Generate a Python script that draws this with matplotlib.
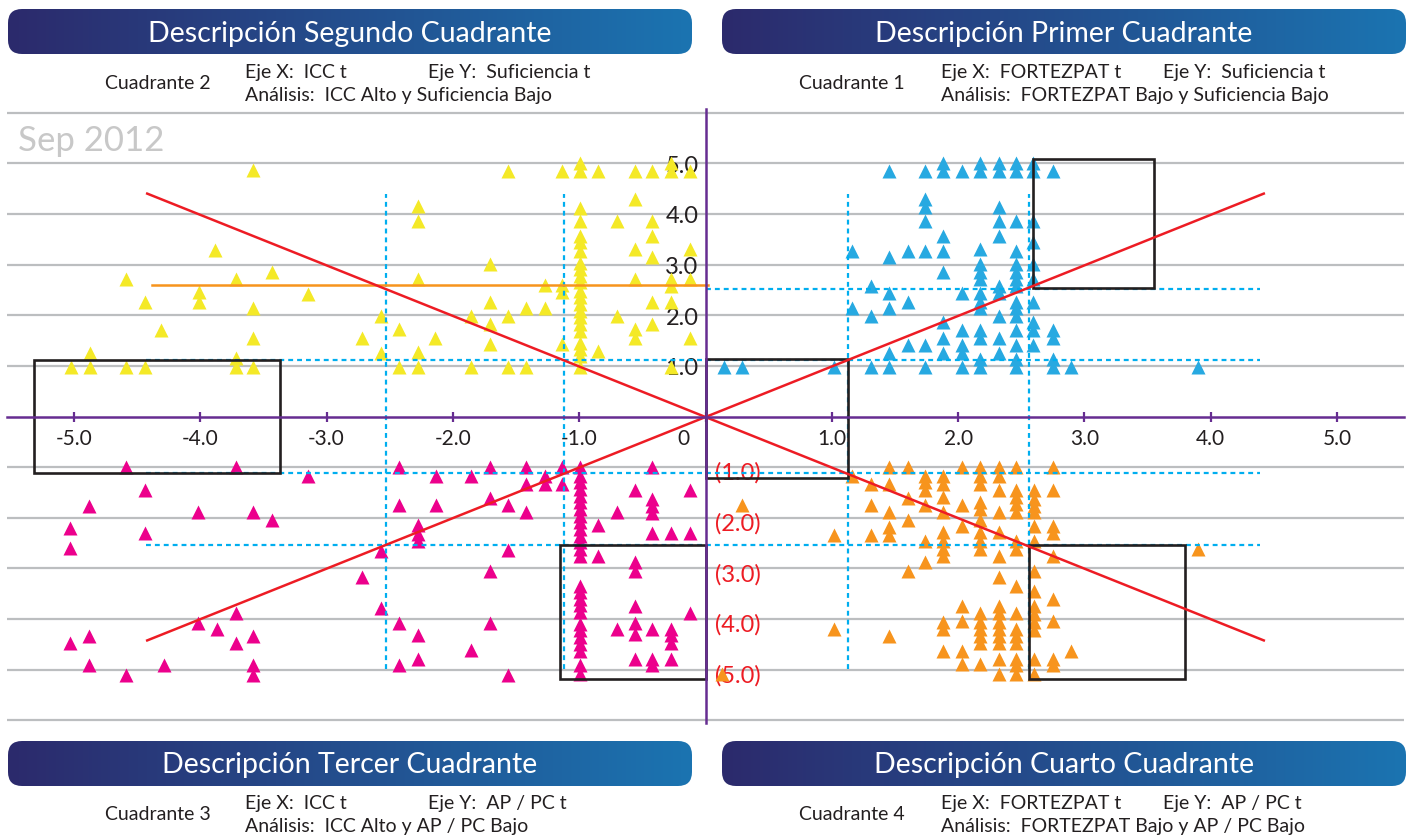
import numpy as np
import matplotlib.pyplot as plt
from matplotlib.patches import FancyBboxPatch, Rectangle
from matplotlib.colors import LinearSegmentedColormap
from matplotlib.ticker import FuncFormatter
from matplotlib.transforms import ScaledTranslation

plt.rcParams['font.family'] = ['Lato', 'DejaVu Sans']

# --- puntos por cuadrante: columnas x y sus valores y ---
q2_cols = [-5.02, -4.87, -4.59, -4.44, -4.31, -4.01, -3.88, -3.72, -3.58, -3.43, -3.15,
           -2.72, -2.57, -2.43, -2.28, -2.14, -1.86, -1.71, -1.56, -1.42, -1.27, -1.14,
           -0.99, -0.85, -0.70, -0.56, -0.42, -0.27, -0.12]
q2_vals = [[0.98], [1.25, 0.98], [2.71, 0.98], [2.27, 0.98], [1.71], [2.45, 2.27], [3.28],
           [2.72, 1.15, 0.98], [4.86, 2.15, 1.55, 0.98], [2.86], [2.42],
           [1.55], [1.99, 1.25], [1.73, 0.98], [4.16, 3.86, 2.71, 1.27, 0.98], [1.55],
           [1.99, 0.98], [3.01, 2.27, 1.82, 1.44], [4.85, 1.99, 0.98], [2.15, 0.98],
           [2.59, 2.15], [4.85, 2.59, 2.45, 1.44],
           [5.01, 4.85, 4.11, 3.86, 3.57, 3.44, 3.27, 3.04, 2.91, 2.78, 2.65, 2.48, 2.35,
            2.22, 2.09, 1.96, 1.82, 1.69, 1.46, 1.33, 1.20, 0.97],
           [4.85, 1.30], [3.86, 1.99], [4.85, 4.29, 3.30, 2.71, 1.73, 1.55],
           [4.85, 3.86, 3.57, 3.14, 2.27, 1.82], [5.01, 4.85, 2.71, 2.58, 2.27, 0.98],
           [4.85, 3.30, 2.71, 1.55]]

q1_cols = [0.15, 0.29, 1.02, 1.16, 1.31, 1.45, 1.60, 1.74, 1.88, 2.03, 2.17, 2.32, 2.46,
           2.59, 2.75, 2.89, 3.90]
q1_vals = [[0.98], [0.98], [0.98], [3.26, 2.14], [2.58, 1.99, 0.98],
           [4.85, 3.14, 2.43, 2.14, 1.25, 0.98], [3.26, 2.27, 1.42],
           [4.85, 4.30, 4.13, 3.86, 3.26, 1.42, 0.98],
           [5.01, 4.85, 3.57, 3.26, 2.86, 1.86, 1.55, 1.25],
           [4.85, 2.43, 1.71, 1.42, 1.25, 0.98],
           [5.01, 4.85, 3.30, 3.01, 2.86, 2.71, 2.43, 2.27, 2.14, 1.71, 1.55, 1.13, 0.98],
           [5.01, 4.85, 4.13, 3.86, 3.57, 2.58, 2.43, 1.99, 1.55, 1.25],
           [5.01, 4.85, 3.86, 3.26, 3.01, 2.86, 2.71, 2.58, 2.27, 2.14, 1.99, 1.71, 1.42,
            1.13, 0.98],
           [5.01, 4.85, 3.86, 3.44, 3.01, 2.71, 2.27, 1.86, 1.71, 1.42],
           [4.85, 1.71, 1.55, 1.13, 0.98], [0.98], [0.98]]

q3_cols = [-5.03, -4.88, -4.59, -4.44, -4.29, -4.02, -3.87, -3.72, -3.58, -3.43, -3.15,
           -2.72, -2.57, -2.43, -2.28, -2.13, -1.86, -1.71, -1.56, -1.42, -1.27, -1.14,
           -0.99, -0.85, -0.70, -0.56, -0.42, -0.27, -0.12]
q3_vals = [[-2.20, -2.60, -4.47], [-1.76, -4.34, -4.90], [-1.00, -5.10], [-1.45, -2.30],
           [-4.90], [-1.89, -4.07], [-4.19], [-1.00, -3.88, -4.47],
           [-1.89, -4.34, -4.90, -5.10], [-2.05], [-1.17],
           [-3.17], [-2.65, -3.78], [-1.00, -1.75, -4.07, -4.90],
           [-2.15, -2.32, -2.45, -4.32, -4.78], [-1.17, -1.75], [-1.17, -4.61],
           [-1.00, -1.61, -3.04, -4.07], [-1.75, -2.63, -5.10], [-1.00, -1.33, -1.89],
           [-1.17, -1.33], [-1.00, -1.33],
           [-1.00, -1.17, -1.30, -1.43, -1.56, -1.69, -1.82, -1.96, -2.09, -2.22, -2.35,
            -2.48, -2.61, -2.75, -3.34, -3.47, -3.60, -3.73, -3.86, -4.09, -4.22, -4.36,
            -4.49, -4.62, -4.91, -5.08],
           [-2.15, -2.75], [-1.88, -4.19], [-1.45, -2.88, -3.04, -3.74, -4.07, -4.30, -4.78],
           [-1.00, -1.63, -1.76, -1.90, -2.30, -4.19, -4.78, -4.91],
           [-2.30, -4.19, -4.32, -4.47, -4.78], [-1.45, -2.30, -3.88]]

q4_cols = [0.13, 0.29, 1.02, 1.16, 1.31, 1.45, 1.60, 1.74, 1.88, 2.03, 2.17, 2.32, 2.46,
           2.60, 2.75, 2.89, 3.90]
q4_vals = [[-5.08], [-1.75], [-2.33, -4.19], [-1.17], [-1.33, -1.75, -2.33],
           [-1.00, -1.33, -1.89, -2.19, -2.33, -4.34], [-1.00, -1.61, -2.05, -3.04],
           [-1.17, -1.30, -1.46, -1.75, -2.45, -2.88],
           [-1.17, -1.33, -1.59, -1.89, -2.28, -2.45, -2.61, -2.76, -4.06, -4.19, -4.62],
           [-1.00, -1.75, -2.17, -3.75, -4.03, -4.62, -4.88],
           [-1.00, -1.17, -1.33, -1.69, -1.82, -2.04, -2.28, -2.45, -2.61, -3.88, -4.06,
            -4.19, -4.34, -4.47, -4.88],
           [-1.00, -1.17, -1.46, -1.89, -2.28, -2.76, -3.17, -3.75, -3.88, -4.06, -4.19,
            -4.34, -4.47, -4.78, -5.08],
           [-1.00, -1.46, -1.59, -1.72, -1.89, -2.45, -2.61, -3.34, -3.88, -4.19, -4.34,
            -4.47, -4.78, -4.91, -5.08],
           [-1.46, -1.63, -1.76, -1.89, -2.17, -2.45, -3.04, -3.45, -3.75, -3.90, -4.06,
            -4.21, -4.78, -5.08],
           [-1.00, -1.46, -2.17, -2.30, -2.76, -3.60, -4.03, -4.78, -4.90],
           [-4.62], [-2.61]]

# lineas de referencia
diag_x = [-4.42, 4.42]
diag_y = [4.40, -4.42]
orange_x = [-4.38, 0.02]
orange_y = 2.59
dash_h = [(2.51, 0.0, 4.39), (1.12, -4.43, 4.39), (-1.12, -4.43, 4.39), (-2.53, -4.43, 4.39)]
dash_v = [-2.53, -1.12, 1.13, 2.56]
dash_v_span = (-4.98, 4.39)
# cajas: x0, x1, y0, y1
boxes = [(-5.32, -3.37, -1.12, 1.12), (0.0, 1.13, -1.22, 1.13), (2.59, 3.55, 2.53, 5.08),
         (-1.15, 0.0, -5.19, -2.53), (2.56, 3.80, -5.19, -2.53)]

x_ticks = [-5, -4, -3, -2, -1, 0, 1, 2, 3, 4, 5]
x_labels = ['-5.0', '-4.0', '-3.0', '-2.0', '-1.0', '0', '1.0', '2.0', '3.0', '4.0', '5.0']
y_ticks = [-5, -4, -3, -2, -1, 1, 2, 3, 4, 5]
grid_y = [-6, -5, -4, -3, -2, -1, 1, 2, 3, 4, 5, 6]

PURPLE = '#662d91'
RED = '#ed1c24'
BLUE_D = '#00aeef'
TXT = '#231f20'


def expand(cols, vals):
    xs = [c for c, v in zip(cols, vals) for _ in v]
    ys = [y for v in vals for y in v]
    return xs, ys


W, H = 1408, 837
fig = plt.figure(figsize=(W / 100, H / 100), dpi=100)
ax = fig.add_axes([7 / W, 1 - 724 / H, 1397 / W, 614 / H])
ax.set_facecolor('none')
ax.set_xlim(-5.53, 5.53)
ax.set_ylim(-6.05, 6.07)

for gy in grid_y:
    ax.axhline(gy, color='#bcbec0', lw=1.6, zorder=0)

for cols, vals, col in [(q2_cols, q2_vals, '#f4e927'), (q1_cols, q1_vals, '#27a9e1'),
                        (q3_cols, q3_vals, '#ec008c'), (q4_cols, q4_vals, '#f7941d')]:
    xs, ys = expand(cols, vals)
    ax.plot(xs, ys, '^', ms=9.5, color=col, mec='none', zorder=3)

for yv, x0, x1 in dash_h:
    ax.plot([x0, x1], [yv, yv], color=BLUE_D, lw=1.6, ls=(0, (2.2, 1.8)), zorder=4)
for xv in dash_v:
    ax.plot([xv, xv], dash_v_span, color=BLUE_D, lw=1.6, ls=(0, (2.2, 1.8)), zorder=4)

ax.plot(orange_x, [orange_y, orange_y], color='#f7941d', lw=1.8, zorder=4)

for x0, x1, y0, y1 in boxes:
    ax.add_patch(Rectangle((x0, y0), x1 - x0, y1 - y0, fill=False, ec=TXT, lw=1.9, zorder=5))

ax.plot(diag_x, diag_y, color=RED, lw=1.8, zorder=6)
ax.plot(diag_x, diag_y[::-1], color=RED, lw=1.8, zorder=6)

for s in ['left', 'bottom', 'right']:
    ax.spines[s].set_position(('data', 0))
for s in ['left', 'bottom']:
    ax.spines[s].set_color(PURPLE)
    ax.spines[s].set_linewidth(1.8)
    ax.spines[s].set_zorder(7)
ax.spines['right'].set_visible(False)
ax.spines['top'].set_visible(False)

ax.set_xticks(x_ticks, x_labels)
ax.tick_params(axis='x', direction='inout', length=7, width=1.6, color=PURPLE,
               labelsize=15, labelcolor=TXT, pad=5)
for t, v in zip(ax.xaxis.get_major_ticks(), x_ticks):
    if v == 0:
        t.label1.set_transform(t.label1.get_transform() +
                               ScaledTranslation(-0.22, 0, fig.dpi_scale_trans))

ax.set_yticks(y_ticks)
ax.yaxis.set_major_formatter(FuncFormatter(
    lambda v, p: f'{v:.1f}' if v > 0 else f'({abs(v):.1f})'))
ax.tick_params(axis='y', which='both', length=0, left=True, right=True,
               labelleft=True, labelright=True, labelsize=17, labelcolor=TXT, pad=5)
for t, v in zip(ax.yaxis.get_major_ticks(), y_ticks):
    t.label1.set_visible(v > 0)
    t.label2.set_visible(v < 0)
    t.label2.set_color(RED)
    t.label2.set_transform(t.label2.get_transform() +
                           ScaledTranslation(0.03, -0.03, fig.dpi_scale_trans))

# --- capa de encabezados en coordenadas de pixel ---
ov = fig.add_axes([0, 0, 1, 1])
ov.set_facecolor('none')
ov.axis('off')

cmap = LinearSegmentedColormap.from_list('hdr', ['#2c2a6c', '#1b74b1'])
headers = [(8, 10, 'Descripción Segundo Cuadrante'), (722, 10, 'Descripción Primer Cuadrante'),
           (8, 742, 'Descripción Tercer Cuadrante'), (722, 742, 'Descripción Cuarto Cuadrante')]
for x0, y0, title in headers:
    w, h = 684, 45
    patch = FancyBboxPatch((x0, y0), w, h, boxstyle='round,pad=0,rounding_size=14',
                           fc='none', ec='none')
    ov.add_patch(patch)
    im = ov.imshow(np.linspace(0, 1, 256).reshape(1, -1), cmap=cmap, aspect='auto',
                   extent=(x0, x0 + w, y0 + h, y0))
    im.set_clip_path(patch)
    ov.text(x0 + w / 2, y0 + h / 2 + 1, title, color='white', fontsize=20.5,
            ha='center', va='center')

infos = [(158, 83, 245, 428, 'Cuadrante 2', 'ICC t', 'Suficiencia t', 'ICC Alto y Suficiencia Bajo'),
         (852, 83, 941, 1163, 'Cuadrante 1', 'FORTEZPAT t', 'Suficiencia t',
          'FORTEZPAT Bajo y Suficiencia Bajo'),
         (158, 815, 245, 428, 'Cuadrante 3', 'ICC t', 'AP / PC t', 'ICC Alto y AP / PC Bajo'),
         (852, 815, 941, 1163, 'Cuadrante 4', 'FORTEZPAT t', 'AP / PC t',
          'FORTEZPAT Bajo y AP / PC Bajo')]
for cx, cy, lx, ly, name, ex, ey, an in infos:
    ov.text(cx, cy, name, fontsize=14, color=TXT, ha='center', va='center')
    ov.text(lx, cy - 11, f'Eje X:  {ex}', fontsize=14, color=TXT, va='center')
    ov.text(ly, cy - 11, f'Eje Y:  {ey}', fontsize=14, color=TXT, va='center')
    ov.text(lx, cy + 12, f'Análisis:  {an}', fontsize=14, color=TXT, va='center')

ov.text(18, 151, 'Sep 2012', fontsize=25, color='#c8c8c8', va='baseline')

ov.set_xlim(0, W)
ov.set_ylim(H, 0)

fig.savefig('out.png', dpi=100)
